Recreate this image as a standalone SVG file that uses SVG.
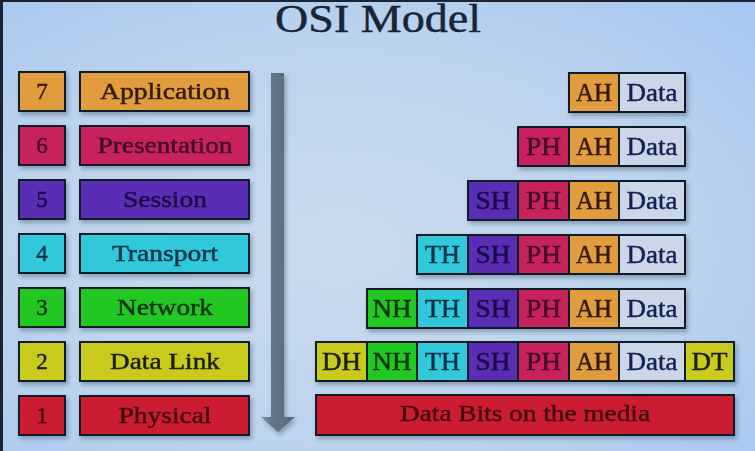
<svg xmlns="http://www.w3.org/2000/svg" width="755" height="451" viewBox="0 0 755 451">
<defs>
<radialGradient id="bg" cx="0.45" cy="0.55" r="0.75">
<stop offset="0" stop-color="#cbdbee"/>
<stop offset="0.6" stop-color="#bcd3ee"/>
<stop offset="1" stop-color="#a6c7f0"/>
</radialGradient>
<linearGradient id="shaft" x1="0" y1="0" x2="1" y2="0">
<stop offset="0" stop-color="#8290a2"/>
<stop offset="0.3" stop-color="#66758a"/>
<stop offset="1" stop-color="#5a687c"/>
</linearGradient>
<filter id="sh" x="-10%" y="-20%" width="120%" height="150%">
<feDropShadow dx="2" dy="3" stdDeviation="2" flood-color="#203040" flood-opacity="0.35"/>
</filter>
</defs>
<style>
.box{stroke:#111a26;stroke-width:2}
.t{font-family:"Liberation Serif","Times New Roman",serif;text-anchor:middle;stroke-width:0.45px}
.l{font-size:23px}
.c{font-size:25px}
.o{fill:#e09c3c}.ot{fill:#341a0c;stroke:#341a0c}
.p{fill:#c8205c}.pt{fill:#420a26;stroke:#420a26}
.s{fill:#5a2eb4}.st{fill:#180a44;stroke:#180a44}
.tr{fill:#30c8dc}.trt{fill:#0a3244;stroke:#0a3244}
.n{fill:#22c824}.nt{fill:#08320a;stroke:#08320a}
.d{fill:#c8ca1e}.dt{fill:#1e1e0a;stroke:#1e1e0a}
.ph{fill:#cc1f30}.pht{fill:#420810;stroke:#420810}
.da{fill:#cbd6e8}.dat{fill:#122256;stroke:#122256}
</style>
<rect x="0" y="0" width="755" height="451" fill="url(#bg)"/>
<rect x="0" y="0" width="3" height="451" fill="#1c2232"/>
<rect x="0" y="0" width="755" height="2" fill="#1c2232"/>
<text class="t" x="378" y="32" font-size="39" textLength="206" lengthAdjust="spacingAndGlyphs" fill="#1a2438" stroke="#1a2438" stroke-width="0.3">OSI Model</text>

<g id="layer7" filter="url(#sh)">
<rect class="box o" x="19" y="72" width="46" height="39"/>
<rect class="box o" x="80" y="72" width="169" height="39"/>
<text class="t l ot" x="42" y="99">7</text>
<text class="t l ot" x="165" y="99" textLength="130" lengthAdjust="spacingAndGlyphs">Application</text>
</g>
<g id="layer6" filter="url(#sh)">
<rect class="box p" x="19" y="126" width="46" height="39"/>
<rect class="box p" x="80" y="126" width="169" height="39"/>
<text class="t l pt" x="42" y="153">6</text>
<text class="t l pt" x="165" y="153" textLength="135" lengthAdjust="spacingAndGlyphs">Presentation</text>
</g>
<g id="layer5" filter="url(#sh)">
<rect class="box s" x="19" y="180" width="46" height="39"/>
<rect class="box s" x="80" y="180" width="169" height="39"/>
<text class="t l st" x="42" y="207">5</text>
<text class="t l st" x="165" y="207" textLength="84" lengthAdjust="spacingAndGlyphs">Session</text>
</g>
<g id="layer4" filter="url(#sh)">
<rect class="box tr" x="19" y="234" width="46" height="39"/>
<rect class="box tr" x="80" y="234" width="169" height="39"/>
<text class="t l trt" x="42" y="261">4</text>
<text class="t l trt" x="165" y="261" textLength="106" lengthAdjust="spacingAndGlyphs">Transport</text>
</g>
<g id="layer3" filter="url(#sh)">
<rect class="box n" x="19" y="288" width="46" height="39"/>
<rect class="box n" x="80" y="288" width="169" height="39"/>
<text class="t l nt" x="42" y="315">3</text>
<text class="t l nt" x="165" y="315" textLength="96" lengthAdjust="spacingAndGlyphs">Network</text>
</g>
<g id="layer2" filter="url(#sh)">
<rect class="box d" x="19" y="342" width="46" height="39"/>
<rect class="box d" x="80" y="342" width="169" height="39"/>
<text class="t l dt" x="42" y="369">2</text>
<text class="t l dt" x="165" y="369" textLength="110" lengthAdjust="spacingAndGlyphs">Data Link</text>
</g>
<g id="layer1" filter="url(#sh)">
<rect class="box ph" x="19" y="396" width="46" height="39"/>
<rect class="box ph" x="80" y="396" width="169" height="39"/>
<text class="t l pht" x="42" y="423">1</text>
<text class="t l pht" x="165" y="423" textLength="93" lengthAdjust="spacingAndGlyphs">Physical</text>
</g>

<g id="connectors">
<path d="M271,73 L284,73 L284,417 L295,417 L278,432 L261,417 L271,417 Z" fill="url(#shaft)" filter="url(#sh)"/>
</g>

<g id="pdu7" filter="url(#sh)">
<rect class="box o" x="569" y="73" width="50" height="39"/>
<rect class="box da" x="619" y="73" width="66" height="39"/>
<text class="t c ot" x="594" y="101" textLength="36" lengthAdjust="spacingAndGlyphs">AH</text>
<text class="t c dat" x="652" y="101" textLength="51" lengthAdjust="spacingAndGlyphs">Data</text>
</g>
<g id="pdu6" filter="url(#sh)">
<rect class="box p" x="518" y="127" width="51" height="39"/>
<rect class="box o" x="569" y="127" width="50" height="39"/>
<rect class="box da" x="619" y="127" width="66" height="39"/>
<text class="t c pt" x="543.5" y="155" textLength="35" lengthAdjust="spacingAndGlyphs">PH</text>
<text class="t c ot" x="594" y="155" textLength="36" lengthAdjust="spacingAndGlyphs">AH</text>
<text class="t c dat" x="652" y="155" textLength="51" lengthAdjust="spacingAndGlyphs">Data</text>
</g>
<g id="pdu5" filter="url(#sh)">
<rect class="box s" x="468" y="181" width="50" height="39"/>
<rect class="box p" x="518" y="181" width="51" height="39"/>
<rect class="box o" x="569" y="181" width="50" height="39"/>
<rect class="box da" x="619" y="181" width="66" height="39"/>
<text class="t c st" x="493" y="209" textLength="35" lengthAdjust="spacingAndGlyphs">SH</text>
<text class="t c pt" x="543.5" y="209" textLength="35" lengthAdjust="spacingAndGlyphs">PH</text>
<text class="t c ot" x="594" y="209" textLength="36" lengthAdjust="spacingAndGlyphs">AH</text>
<text class="t c dat" x="652" y="209" textLength="51" lengthAdjust="spacingAndGlyphs">Data</text>
</g>
<g id="pdu4" filter="url(#sh)">
<rect class="box tr" x="417" y="235" width="51" height="39"/>
<rect class="box s" x="468" y="235" width="50" height="39"/>
<rect class="box p" x="518" y="235" width="51" height="39"/>
<rect class="box o" x="569" y="235" width="50" height="39"/>
<rect class="box da" x="619" y="235" width="66" height="39"/>
<text class="t c trt" x="442.5" y="263" textLength="35" lengthAdjust="spacingAndGlyphs">TH</text>
<text class="t c st" x="493" y="263" textLength="35" lengthAdjust="spacingAndGlyphs">SH</text>
<text class="t c pt" x="543.5" y="263" textLength="35" lengthAdjust="spacingAndGlyphs">PH</text>
<text class="t c ot" x="594" y="263" textLength="36" lengthAdjust="spacingAndGlyphs">AH</text>
<text class="t c dat" x="652" y="263" textLength="51" lengthAdjust="spacingAndGlyphs">Data</text>
</g>
<g id="pdu3" filter="url(#sh)">
<rect class="box n" x="367" y="289" width="50" height="39"/>
<rect class="box tr" x="417" y="289" width="51" height="39"/>
<rect class="box s" x="468" y="289" width="50" height="39"/>
<rect class="box p" x="518" y="289" width="51" height="39"/>
<rect class="box o" x="569" y="289" width="50" height="39"/>
<rect class="box da" x="619" y="289" width="66" height="39"/>
<text class="t c nt" x="392" y="317" textLength="39" lengthAdjust="spacingAndGlyphs">NH</text>
<text class="t c trt" x="442.5" y="317" textLength="35" lengthAdjust="spacingAndGlyphs">TH</text>
<text class="t c st" x="493" y="317" textLength="35" lengthAdjust="spacingAndGlyphs">SH</text>
<text class="t c pt" x="543.5" y="317" textLength="35" lengthAdjust="spacingAndGlyphs">PH</text>
<text class="t c ot" x="594" y="317" textLength="36" lengthAdjust="spacingAndGlyphs">AH</text>
<text class="t c dat" x="652" y="317" textLength="51" lengthAdjust="spacingAndGlyphs">Data</text>
</g>
<g id="pdu2" filter="url(#sh)">
<rect class="box d" x="316" y="342" width="51" height="39"/>
<rect class="box n" x="367" y="342" width="50" height="39"/>
<rect class="box tr" x="417" y="342" width="51" height="39"/>
<rect class="box s" x="468" y="342" width="50" height="39"/>
<rect class="box p" x="518" y="342" width="51" height="39"/>
<rect class="box o" x="569" y="342" width="50" height="39"/>
<rect class="box da" x="619" y="342" width="66" height="39"/>
<rect class="box d" x="685" y="342" width="49" height="39"/>
<text class="t c dt" x="341.5" y="370" textLength="39" lengthAdjust="spacingAndGlyphs">DH</text>
<text class="t c nt" x="392" y="370" textLength="39" lengthAdjust="spacingAndGlyphs">NH</text>
<text class="t c trt" x="442.5" y="370" textLength="35" lengthAdjust="spacingAndGlyphs">TH</text>
<text class="t c st" x="493" y="370" textLength="35" lengthAdjust="spacingAndGlyphs">SH</text>
<text class="t c pt" x="543.5" y="370" textLength="35" lengthAdjust="spacingAndGlyphs">PH</text>
<text class="t c ot" x="594" y="370" textLength="36" lengthAdjust="spacingAndGlyphs">AH</text>
<text class="t c dat" x="652" y="370" textLength="51" lengthAdjust="spacingAndGlyphs">Data</text>
<text class="t c dt" x="709.5" y="370" textLength="36" lengthAdjust="spacingAndGlyphs">DT</text>
</g>
<g id="pdu1" filter="url(#sh)">
<rect class="box ph" x="316" y="395" width="418" height="40"/>
<text class="t l pht" x="525" y="421" textLength="250" lengthAdjust="spacingAndGlyphs">Data Bits on the media</text>
</g>
</svg>
